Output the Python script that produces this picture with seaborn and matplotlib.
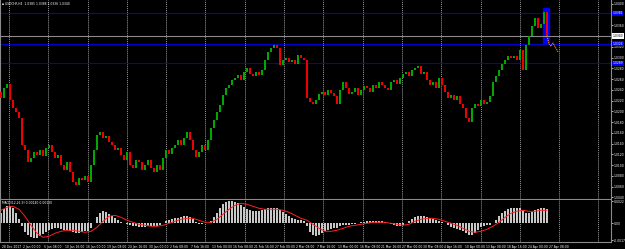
import numpy as np
import pandas as pd
import seaborn as sns
import matplotlib.pyplot as plt
from matplotlib.patches import Rectangle

# --- data (one value per ~3 H4 bars) ---
first_open = 1.0235
closes = [
    1.0225, 1.0243, 1.0251, 1.0221, 1.0206, 1.0199, 1.0188, 1.0137, 1.0128, 1.0106,
    1.0113, 1.0124, 1.0119, 1.0128, 1.0117, 1.0132, 1.0137, 1.0124, 1.0113, 1.0119,
    1.0100, 1.0091, 1.0106, 1.0087, 1.0069, 1.0063, 1.0076, 1.0072, 1.0080, 1.0069,
    1.0100, 1.0128, 1.0156, 1.0162, 1.0150, 1.0154, 1.0143, 1.0137, 1.0128, 1.0132,
    1.0119, 1.0109, 1.0124, 1.0100, 1.0095, 1.0109, 1.0106, 1.0091, 1.0100, 1.0109,
    1.0095, 1.0087, 1.0100, 1.0091, 1.0113, 1.0128, 1.0121, 1.0132, 1.0137, 1.0147,
    1.0137, 1.0150, 1.0162, 1.0147, 1.0128, 1.0115, 1.0124, 1.0137, 1.0128, 1.0147,
    1.0169, 1.0184, 1.0199, 1.0212, 1.0230, 1.0243, 1.0249, 1.0258, 1.0262, 1.0268,
    1.0258, 1.0273, 1.0281, 1.0269, 1.0266, 1.0273, 1.0268, 1.0277, 1.0295, 1.0310,
    1.0318, 1.0323, 1.0318, 1.0286, 1.0295, 1.0299, 1.0292, 1.0295, 1.0288, 1.0305,
    1.0299, 1.0295, 1.0225, 1.0217, 1.0214, 1.0221, 1.0232, 1.0236, 1.0230, 1.0240,
    1.0234, 1.0228, 1.0214, 1.0240, 1.0255, 1.0243, 1.0232, 1.0236, 1.0243, 1.0230,
    1.0240, 1.0247, 1.0243, 1.0236, 1.0249, 1.0243, 1.0255, 1.0249, 1.0243, 1.0240,
    1.0255, 1.0258, 1.0251, 1.0262, 1.0269, 1.0273, 1.0266, 1.0277, 1.0281, 1.0284,
    1.0269, 1.0273, 1.0258, 1.0249, 1.0255, 1.0243, 1.0262, 1.0249, 1.0236, 1.0225,
    1.0230, 1.0221, 1.0228, 1.0214, 1.0206, 1.0188, 1.0180, 1.0206, 1.0214, 1.0210,
    1.0221, 1.0214, 1.0217, 1.0228, 1.0255, 1.0266, 1.0277, 1.0288, 1.0295, 1.0303,
    1.0299, 1.0303, 1.0295, 1.0314, 1.0277, 1.0323, 1.0340, 1.0359, 1.0374, 1.0355,
    1.0362, 1.0385, 1.0340,
]

# MACD main line (histogram) and signal, in units of 0.0001
macd_pts = [
    10, 14, 17, 17, 15, 10, 4, -3, -9, -12,
    -14, -15, -15, -13, -11, -9, -7, -6, -5, -5,
    -6, -7, -7, -8, -9, -10, -10, -9, -8, -8,
    -5, 0, 6, 10, 12, 11, 9, 7, 5, 3,
    1, 0, -1, -2, -3, -3, -4, -4, -4, -3,
    -3, -3, -3, -2, 0, 2, 3, 4, 5, 5,
    6, 7, 7, 6, 4, 1, -1, -1, 0, 0,
    2, 6, 10, 15, 19, 21, 22, 22, 21, 20,
    18, 16, 14, 13, 12, 12, 12, 13, 14, 15,
    15, 15, 15, 13, 11, 9, 7, 5, 4, 3,
    3, 2, -3, -9, -12, -13, -12, -10, -8, -7,
    -6, -5, -5, -3, -2, -2, -2, -1, -1, 0,
    1, 1, 2, 2, 2, 2, 2, 2, 1, 0,
    -1, -2, -3, -3, -2, 0, 2, 4, 6, 7,
    7, 7, 6, 5, 4, 3, 2, 1, 0, -2,
    -4, -5, -6, -7, -8, -10, -12, -12, -10, -7,
    -4, -3, -2, -2, 0, 3, 7, 10, 12, 14,
    15, 15, 15, 15, 13, 10, 10, 11, 13, 14,
    15, 15, 14,
]
signal_pts = [  # one value every 2 points of the series above
    13, 16, 17, 14, 7, -2, -10, -14, -13, -10,
    -8, -7, -7, -8, -9, -8, -4, 2, 7, 8,
    6, 3, 1, -1, -2, -3, -3, -2, 0, 2,
    4, 5, 5, 3, 1, 1, 4, 9, 14, 18,
    20, 19, 17, 15, 14, 14, 14, 13, 11, 8,
    5, 3, -1, -5, -8, -8, -7, -5, -3, -2,
    -1, 0, 1, 1, 1, 0, -1, -2, -1, 2,
    4, 5, 5, 4, 2, 0, -2, -5, -8, -9,
    -8, -6, -3, 1, 6, 10, 12, 13, 12, 12,
    13, 13,
]

date_labels = [
    "28 Dec 2017", "2 Jan 00:00", "5 Jan 08:00", "10 Jan 16:00", "16 Jan 00:00",
    "19 Jan 08:00", "24 Jan 16:00", "30 Jan 00:00", "2 Feb 08:00", "7 Feb 16:00",
    "13 Feb 00:00", "16 Feb 08:00", "21 Feb 16:00", "27 Feb 00:00", "2 Mar 08:00",
    "7 Mar 16:00", "13 Mar 00:00", "16 Mar 08:00", "21 Mar 16:00", "27 Mar 00:00",
    "30 Mar 08:00", "4 Apr 16:00", "10 Apr 00:00", "13 Apr 08:00", "18 Apr 16:00",
    "24 Apr 00:00", "27 Apr 08:00",
]
price_ticks = [1.0400 - 0.0020 * k for k in range(19)]
level_lines = [1.0382, 1.0326, 1.0289]   # blue horizontal lines
bid_price = 1.0340
box_x = (180.7, 182.7)                   # blue highlight box (bar index)
box_price = (1.0327, 1.0392)
proj_x = [182.0, 182.7, 183.3, 184.0, 184.7, 185.7]
proj_price = [1.0340, 1.0325, 1.0321, 1.0327, 1.0320, 1.0310]
header = "USDCHF,H4  1.0385 1.0388 1.0336 1.0340"
macd_header = "MACD(12,26,9) 0.00140 0.00130"

FS = 2.2

# --- frame ---
df = pd.DataFrame({"close": closes})
df["open"] = [first_open] + closes[:-1]
df["x"] = np.arange(len(df))
up = df["close"] >= df["open"]

sig = pd.DataFrame({"x": np.arange(len(signal_pts)) * 2, "v": np.array(signal_pts) * 1e-4})
hist = pd.DataFrame({"x": np.arange(len(macd_pts)), "v": np.array(macd_pts) * 1e-4})

sns.set_theme(style="dark", rc={
    "figure.facecolor": "black", "axes.facecolor": "black",
    "axes.edgecolor": "#8a8a8a", "axes.linewidth": 0.8,
    "text.color": "white", "xtick.color": "white", "ytick.color": "white",
})
plt.rcParams["font.family"] = ["DejaVu Sans"]

W, H = 625, 249
fig = plt.figure(figsize=(W / 100, H / 100), dpi=100)
ax = fig.add_axes([0, 1 - 198.5 / H, 611 / W, 198.5 / H])
ax2 = fig.add_axes([0, 1 - 242 / H, 611 / W, 42.5 / H])

xlim = (-1 / 3, 610 / 3)
grid_x = (8 + 39.3 * np.arange(16)) / 3
for a in (ax, ax2):
    a.set_xlim(*xlim)
    for gx in grid_x:
        a.axvline(gx, color="#9a9a9a", lw=0.7, ls=(0, (1, 1)), zorder=0)
    a.spines["top"].set_visible(False)
    a.grid(False)

# --- main chart ---
ax.add_patch(Rectangle((box_x[0], box_price[0]), box_x[1] - box_x[0],
                       box_price[1] - box_price[0], color="#0000ff", zorder=1))
ax.axhline(bid_price, color="#8a8a8a", lw=0.8, zorder=1)
for lv in level_lines:
    ax.axhline(lv, color="#0000c8", lw=0.8, zorder=1)

body = (df["close"] - df["open"]).abs().clip(lower=0.00006)
ax.bar(df["x"], body, bottom=df[["open", "close"]].min(axis=1), width=0.75,
       color=np.where(up, "#00a800", "#f00000"), linewidth=0, zorder=3)
ax.plot(proj_x, proj_price, color="#ff9900", lw=0.8, ls=(0, (1, 0.8)), zorder=4)

ax.set_ylim(1.0407 - 0.000186 * 198.5, 1.0407)
ax.yaxis.tick_right()
ax.set_yticks(price_ticks)
boxed = level_lines + [bid_price]
ax.set_yticklabels([
    "" if min(abs(v - b) for b in boxed) < 0.0004 else f"{v:.4f}" for v in price_ticks
])
ax.tick_params(axis="y", labelsize=FS, length=1.2, width=0.5, pad=0.6)
ax.set_xticks([])
ax.set_xlabel("")
ax.set_ylabel("")

for lv in level_lines:
    ax.text(1.002, lv, f"{lv:.4f}", transform=ax.get_yaxis_transform(), fontsize=FS,
            color="white", va="center", ha="left", clip_on=False,
            bbox=dict(facecolor="#0000ff", edgecolor="none", pad=0.5), zorder=6)
ax.text(1.002, bid_price, f"{bid_price:.4f}", transform=ax.get_yaxis_transform(),
        fontsize=FS, color="black", va="center", ha="left", clip_on=False,
        bbox=dict(facecolor="white", edgecolor="none", pad=0.5), zorder=6)
ax.text(0.004, 0.99, "\u25aa " + header, transform=ax.transAxes, fontsize=FS,
        color="white", va="top", ha="left")

# --- MACD panel ---
sns.barplot(data=hist, x="x", y="v", native_scale=True, color="#c8c8c8",
            saturation=1, width=0.5, linewidth=0, errorbar=None, ax=ax2, zorder=2)
sns.lineplot(data=sig, x="x", y="v", color="#ff2020", lw=0.7, ax=ax2, zorder=3)
ax2.set_xlim(*xlim)
ax2.set_ylim(-0.00187, 0.00238)
ax2.yaxis.tick_right()
ax2.set_yticks([0.0022, 0.0, -0.0017])
ax2.set_yticklabels(["0.0022", "0.00", "-0.0017"])
ax2.tick_params(axis="y", labelsize=FS, length=1.2, width=0.5, pad=0.6)
tick_pos = (0.7 + 21.05 * np.arange(len(date_labels))) / 3
ax2.set_xticks(tick_pos)
ax2.set_xticklabels(date_labels, ha="left")
ax2.tick_params(axis="x", labelsize=FS, length=1.5, width=0.5, pad=0.8)
ax2.set_xlabel("")
ax2.set_ylabel("")
ax2.text(0.004, 0.97, macd_header, transform=ax2.transAxes, fontsize=FS,
         color="white", va="top", ha="left")

fig.savefig("out.png", dpi=100, facecolor="black")
